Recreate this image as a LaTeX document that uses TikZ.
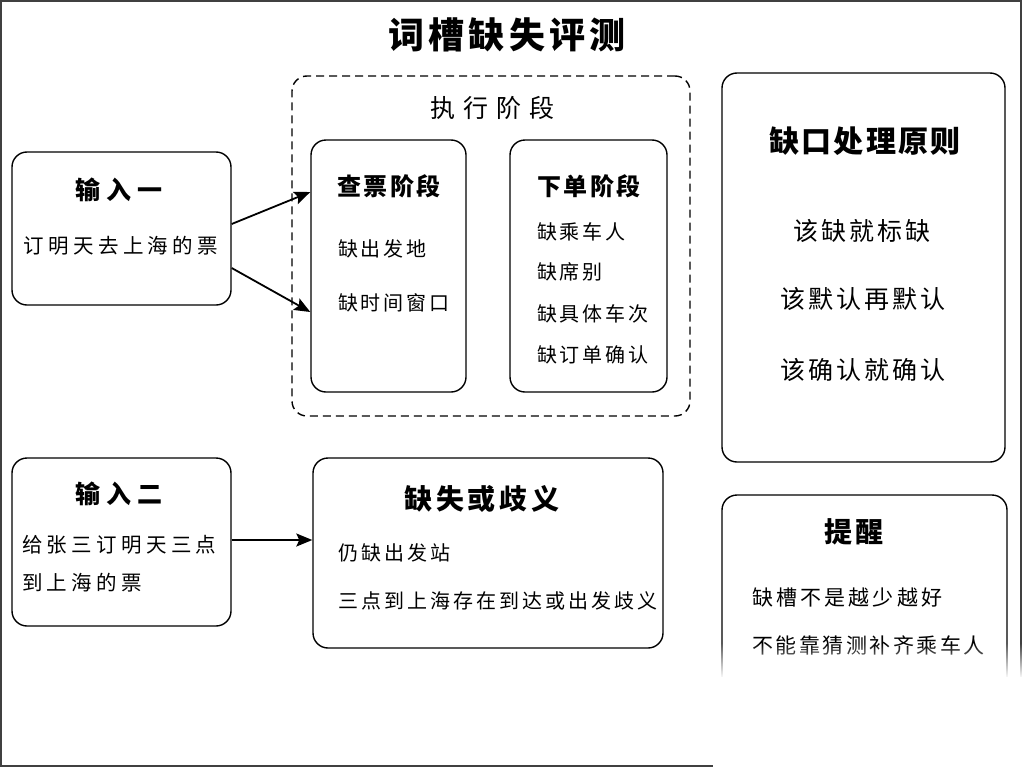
\documentclass[tikz,border=0pt]{standalone}
\usepackage{fontspec}
\setmainfont{Noto Sans CJK SC}
\usetikzlibrary{arrows.meta,fadings}

\newcommand{\fs}[2]{\fontsize{#1}{#1}\selectfont\addfontfeatures{LetterSpace=#2}}

\begin{document}
\begin{tikzpicture}[x=1pt, y=-1pt]
\tikzstyle{panel} = [draw, line width=1.4pt, rounded corners=15pt, inner sep=0pt]
\tikzstyle{stagebox} = [panel, dash pattern=on 8pt off 5pt]
\tikzstyle{hd} = [inner sep=0pt]
\tikzstyle{txt} = [inner sep=0pt, anchor=west]
\tikzstyle{link} = [line width=1.8pt, -{Stealth[length=16pt,width=13pt,inset=3pt]}]

\useasboundingbox (0,0) rectangle (1024,768);
\draw[black!75, line width=1.2pt] (1,1) rectangle (1021,766);

\node[hd, font=\bfseries\fs{36}{12}] (title) at (507,35) {词槽缺失评测};

% boxes
\node[panel, minimum width=219pt, minimum height=153pt] (in1) at (121.5,228.5) {};
\node[panel, minimum width=219pt, minimum height=168pt] (in2) at (121.5,542) {};
\node[stagebox, minimum width=398pt, minimum height=340pt] (exec) at (491,246) {};
\node[panel, minimum width=155pt, minimum height=252pt] (cha) at (388.5,266) {};
\node[panel, minimum width=157pt, minimum height=252pt] (xia) at (588.5,266) {};
\node[panel, minimum width=283pt, minimum height=389pt] (rule) at (863.5,267.5) {};
\node[panel, minimum width=350pt, minimum height=190pt] (gap) at (488,553) {};
\node[panel, minimum width=285pt, minimum height=250pt] (tip) at (864.5,620) {};

% input one
\node[hd, font=\bfseries\fs{25}{24}] (in1t) at (119,190) {输入一};
\node[hd, font=\fs{20.5}{21}] (in1a) at (121,246) {订明天去上海的票};

% input two
\node[hd, font=\bfseries\fs{25}{24}] (in2t) at (119,494) {输入二};
\node[txt, font=\fs{20.5}{21}] (in2a) at (22,545) {给张三订明天三点};
\node[txt, font=\fs{20.5}{21}] (in2b) at (22,583) {到上海的票};

% execution
\node[hd, font=\fs{25}{32}] (exect) at (492,108) {执行阶段};
\node[hd, font=\bfseries\fs{24}{10}] (chat) at (389,186) {查票阶段};
\node[txt, font=\fs{20}{14}] (cha1) at (338,249) {缺出发地};
\node[txt, font=\fs{20}{14}] (cha2) at (338,303) {缺时间窗口};
\node[hd, font=\bfseries\fs{24}{10}] (xiat) at (589,186) {下单阶段};
\node[txt, font=\fs{20}{14}] (xia1) at (537,232) {缺乘车人};
\node[txt, font=\fs{20}{14}] (xia2) at (537,272) {缺席别};
\node[txt, font=\fs{20}{14}] (xia3) at (537,314) {缺具体车次};
\node[txt, font=\fs{20}{14}] (xia4) at (537,355) {缺订单确认};

% principles
\node[hd, font=\bfseries\fs{30}{8}] (rulet) at (865,141) {缺口处理原则};
\node[hd, font=\fs{25}{12}] (rule1) at (862,231) {该缺就标缺};
\node[hd, font=\fs{25}{12}] (rule2) at (863,299) {该默认再默认};
\node[hd, font=\fs{25}{12}] (rule3) at (863,370) {该确认就确认};

% missing / ambiguity
\node[hd, font=\bfseries\fs{28}{14}] (gapt) at (482,499) {缺失或歧义};
\node[txt, font=\fs{20}{15}] (gap1) at (338,553) {仍缺出发站};
\node[txt, font=\fs{20}{15}] (gap2) at (338,601) {三点到上海存在到达或出发歧义};

% reminder
\node[hd, font=\bfseries\fs{28}{14}] (tipt) at (854,532) {提醒};
\node[txt, font=\fs{21}{15}] (tip1) at (752,598) {缺槽不是越少越好};
\node[txt, font=\fs{21}{12}] (tip2) at (752,645) {不能靠猜测补齐乘车人};

\draw[link] ([yshift=4.5pt]in1.east) -- ([yshift=74pt]cha.west);
\draw[link] ([yshift=-39.5pt]in1.east) -- ([yshift=-46pt]cha.west);
\draw[link] ([yshift=2pt]in2.east) -- ([yshift=2pt]in2.east -| gap.west);

% faded corner
\fill[white, path fading=north] (713,643) rectangle (1024,678);
\fill[white] (713,677) rectangle (1024,768);
\end{tikzpicture}
\end{document}
